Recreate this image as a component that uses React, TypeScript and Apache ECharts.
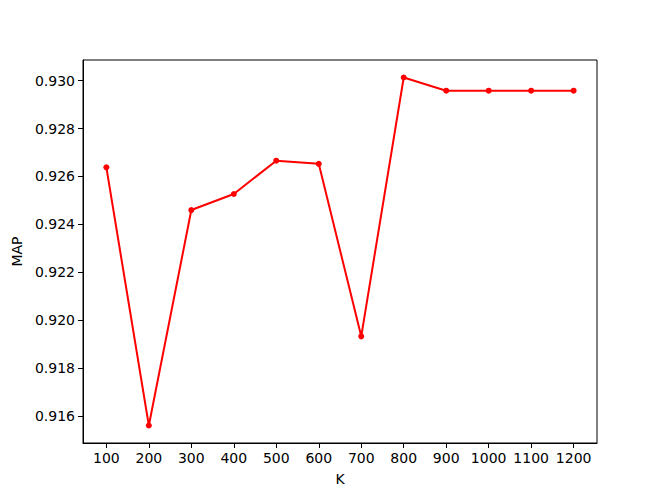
import React, { useEffect, useRef } from "react";
import * as echarts from "echarts";

const kValues = [100, 200, 300, 400, 500, 600, 700, 800, 900, 1000, 1100, 1200];
const mapValues = [0.92638, 0.91561, 0.9246, 0.92527, 0.92666, 0.92653, 0.91933, 0.93013, 0.92958, 0.92958, 0.92958, 0.92958];
const yTicks = [0.916, 0.918, 0.92, 0.922, 0.924, 0.926, 0.928, 0.93];

const FONT = "DejaVu Sans";

export default function App() {
  const ref = useRef<HTMLDivElement>(null);
  useEffect(() => {
    const chart = echarts.init(ref.current!, null, { renderer: "svg" });
    chart.setOption({
      animation: false,
      backgroundColor: "#fff",
      grid: {
        left: 83,
        right: 67,
        top: 60,
        bottom: 55,
        show: true,
        borderColor: "#000",
        borderWidth: 1,
        backgroundColor: "transparent",
      },
      xAxis: {
        type: "value",
        min: 45,
        max: 1255,
        name: "K",
        nameLocation: "middle",
        nameGap: 29,
        nameTextStyle: { fontFamily: FONT, fontSize: 14, color: "#000" },
        splitLine: { show: false },
        axisLine: { lineStyle: { color: "#000", width: 1 } },
        axisTick: { show: true, length: 5, lineStyle: { color: "#000" }, customValues: kValues },
        axisLabel: {
          customValues: kValues,
          fontFamily: FONT,
          fontSize: 14,
          color: "#000",
          margin: 8,
          formatter: (v: number) => String(v),
        },
      },
      yAxis: {
        type: "value",
        min: 0.91488,
        max: 0.93086,
        name: "MAP",
        nameLocation: "middle",
        nameGap: 59,
        nameTextStyle: { fontFamily: FONT, fontSize: 14, color: "#000" },
        splitLine: { show: false },
        axisLine: { show: true, lineStyle: { color: "#000", width: 1 } },
        axisTick: { show: true, length: 5, lineStyle: { color: "#000" }, customValues: yTicks },
        axisLabel: {
          customValues: yTicks,
          fontFamily: FONT,
          fontSize: 14,
          color: "#000",
          margin: 8,
          formatter: (v: number) => v.toFixed(3),
        },
      },
      series: [
        {
          type: "line",
          data: kValues.map((k, i) => [k, mapValues[i]]),
          symbol: "circle",
          symbolSize: 6,
          itemStyle: { color: "#ff0000" },
          lineStyle: { color: "#ff0000", width: 2 },
        },
      ],
    });
    return () => chart.dispose();
  }, []);
  return <div ref={ref} style={{ width: 664, height: 498, position: "absolute", left: 0, top: 0 }} />;
}
